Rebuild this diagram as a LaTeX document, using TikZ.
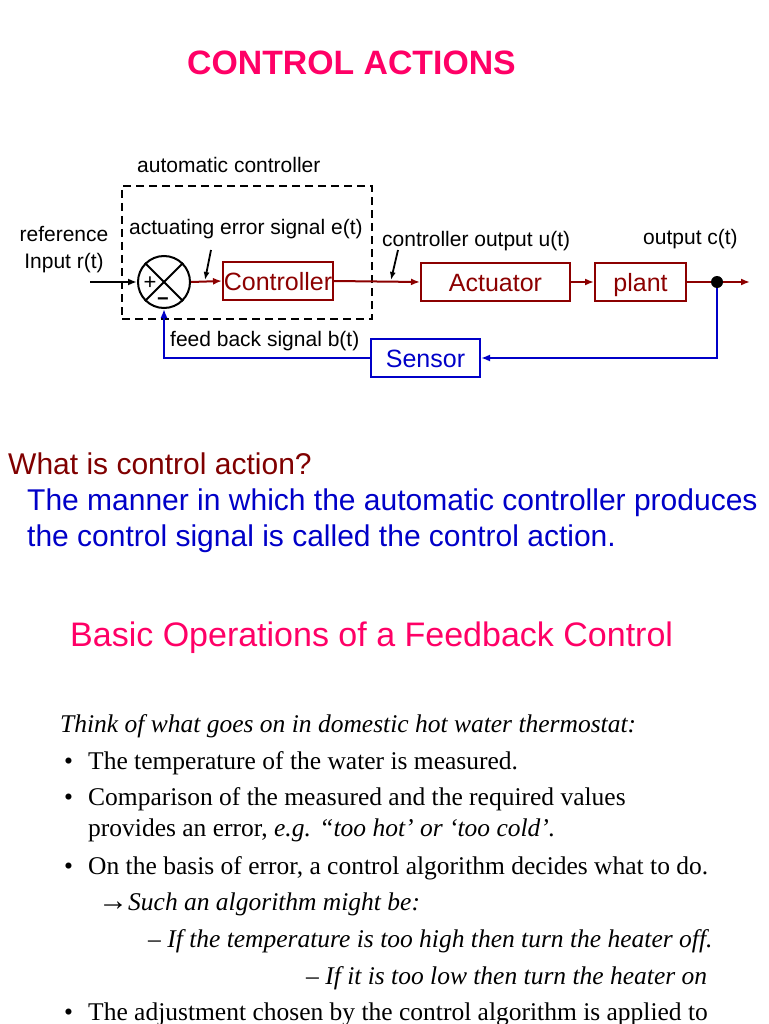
\documentclass[tikz,border=0pt]{standalone}
\usepackage{fontspec}
\setmainfont{Liberation Sans}
\newfontfamily\serifface{Liberation Serif}
\usetikzlibrary{arrows.meta}
\definecolor{ctrlred}{RGB}{140,0,0}
\definecolor{askred}{RGB}{128,0,0}
\definecolor{fbblue}{RGB}{0,0,200}
\definecolor{titlepink}{RGB}{255,0,102}

\begin{document}
\begin{tikzpicture}[x=1pt, y=-1pt,
    block/.style ={draw=ctrlred, line width=2pt, text=ctrlred, inner sep=0pt,
                   minimum height=38pt, text height=19pt, text depth=1pt,
                   font=\fontsize{25}{25}\selectfont},
    sigtext/.style ={anchor=base west, inner sep=0pt, font=\fontsize{21}{21}\selectfont},
    bodytext/.style ={anchor=base west, inner sep=0pt, font=\serifface\fontsize{25.5}{25.5}\selectfont},
    redline/.style ={ctrlred, line width=2pt, -{Latex[length=9pt, width=7pt]}},
    blueline/.style ={fbblue, line width=2pt, -{Latex[length=9pt, width=7pt]}},
    pointer/.style ={black, line width=1.8pt, -{Latex[length=8pt, width=6pt]}}]
   \useasboundingbox (0,0) rectangle (768,1024);
   \node[anchor=base west, inner sep=0pt, text=titlepink, font=\bfseries\fontsize{33.8}{34}\selectfont] (title) at (187,75) {CONTROL ACTIONS};
   % block diagram
   \node[draw, dashed, dash pattern=on 8pt off 5pt, line width=2.5pt, minimum width=250pt, minimum height=133pt] (autobox) at (247,252.5) {};
   \node[circle, draw, line width=2pt, minimum size=52pt, inner sep=0pt] (sum) at (164,282) {};
   \draw[line width=2pt] (sum.north west) -- (sum.south east);
   \draw[line width=2pt] (sum.north east) -- (sum.south west);
   \node[inner sep=0pt, font=\fontsize{22}{22}\selectfont] (plus) at (150,283) {+};
   \node[inner sep=0pt, font=\bfseries\fontsize{20}{20}\selectfont] (minus) at (163,302) {−};
   \node[block, minimum width=110pt] (ctrl) at (278,281) {Controller};
   \node[block, minimum width=149pt] (act) at (495.5,282) {Actuator};
   \node[block, minimum width=91pt] (plant) at (640.5,282) {plant};
   \node[block, draw=fbblue, text=fbblue, minimum width=109pt] (sensor) at (425.5,358) {Sensor};
   \node[circle, fill=black, minimum size=12pt, inner sep=0pt] (tap) at (717,282) {};
   \coordinate (rin) at (90,282);
   \coordinate (cout) at (750,282);
   \draw[black, line width=2pt, -{Latex[length=9pt, width=7pt]}] (rin) to (sum.west);
   \draw[redline] (sum.east) to (ctrl.west);
   \draw[redline] (ctrl.east) to (act.west);
   \draw[redline] (act.east) to (plant.west);
   \draw[ctrlred, line width=2pt] (plant.east) to (tap);
   \draw[redline] (tap) to (cout);
   \draw[blueline] (tap.south) |- (sensor.east);
   \draw[blueline] (sensor.west) -| (sum.south);
   % signal labels
   \node[sigtext] (autolbl) at (137,173) {automatic controller};
   \node[sigtext] (errlbl) at (129,234) {actuating error signal e(t)};
   \node[sigtext] (ulbl) at (382,247) {controller output u(t)};
   \node[sigtext] (clbl) at (643,244) {output c(t)};
   \node[sigtext] (blbl) at (170,346) {feed back signal b(t)};
   \node[sigtext, anchor=base] (reflbl) at (64,241) {reference};
   \node[sigtext, anchor=base] (inlbl) at (64,268) {Input r(t)};
   \coordinate (etail) at (211,250);
   \coordinate (ehead) at (205,280);
   \coordinate (utail) at (398,250);
   \coordinate (uhead) at (391,280);
   \draw[pointer] (etail) to (ehead);
   \draw[pointer] (utail) to (uhead);
   % text
   \node[anchor=base west, inner sep=0pt, text=askred, font=\fontsize{30}{30}\selectfont] (ask) at (8,474) {What is control action?};
   \node[anchor=base west, inner sep=0pt, text=fbblue, font=\fontsize{30}{30}\selectfont] (ans1) at (27,510) {The manner in which the automatic controller produces};
   \node[anchor=base west, inner sep=0pt, text=fbblue, font=\fontsize{30}{30}\selectfont] (ans2) at (27,546) {the control signal is called the control action.};
   \node[anchor=base west, inner sep=0pt, text=titlepink, font=\fontsize{34}{34}\selectfont] (basic) at (70,646) {Basic Operations of a Feedback Control};
   \node[bodytext, font=\serifface\itshape\fontsize{25.5}{25.5}\selectfont] (think) at (60,732) {Think of what goes on in domestic hot water thermostat:};
   \foreach \y in {769,805,874,1020}
      \node[bodytext] at (64,\y) {•};
   \node[bodytext] (item1) at (88,769) {The temperature of the water is measured.};
   \node[bodytext] (item2) at (88,805) {Comparison of the measured and the required values};
   \node[bodytext] (item2b) at (88,836) {provides an error, \itshape e.g. “too hot’ or ‘too cold’.};
   \node[bodytext] (item3) at (88,874) {On the basis of error, a control algorithm decides what to do.};
   \node[bodytext, font=\serifface\itshape\fontsize{25.5}{25.5}\selectfont] (algo) at (98,910) {{\upshape\fontsize{30}{30}\selectfont→}Such an algorithm might be:};
   \node[bodytext, font=\serifface\itshape\fontsize{25.5}{25.5}\selectfont] (high) at (148,947) {\upshape–\itshape\ If the temperature is too high then turn the heater off.};
   \node[bodytext, font=\serifface\itshape\fontsize{25.5}{25.5}\selectfont] (low) at (306,984) {\upshape–\itshape\ If it is too low then turn the heater on};
   \node[bodytext] (item4) at (88,1020) {The adjustment chosen by the control algorithm is applied to};
\end{tikzpicture}
\end{document}
